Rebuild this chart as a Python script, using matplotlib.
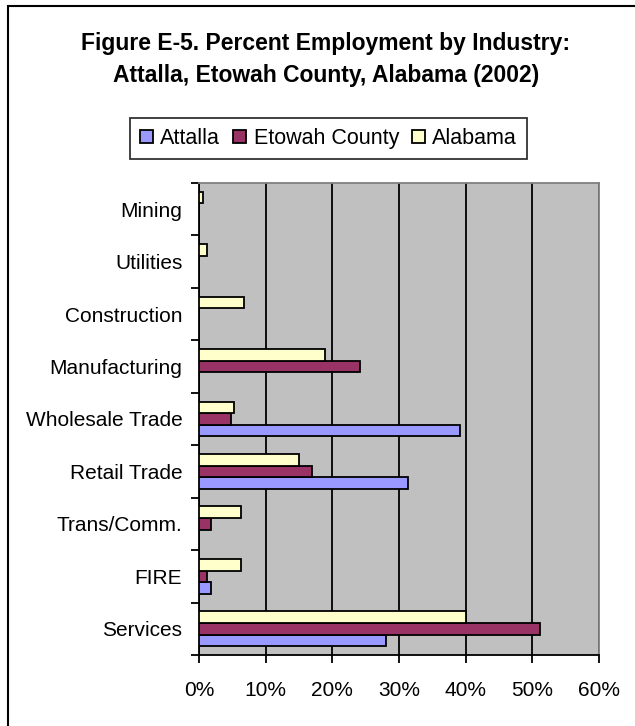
import numpy as np
import matplotlib
matplotlib.use("Agg")
import matplotlib.pyplot as plt
from matplotlib.patches import Rectangle
from matplotlib.ticker import FuncFormatter

plt.rcParams['font.family'] = ['Liberation Sans', 'DejaVu Sans']

# Industries listed top to bottom
industries = ["Mining", "Utilities", "Construction", "Manufacturing",
              "Wholesale Trade", "Retail Trade", "Trans/Comm.", "FIRE", "Services"]

# Percent employment (nan = no value reported)
attalla = [np.nan, np.nan, np.nan, np.nan, 39.1, 31.3, np.nan, 1.8, 28.0]
etowah = [np.nan, np.nan, np.nan, 24.1, 4.8, 16.9, 1.8, 1.2, 51.1]
alabama = [0.6, 1.2, 6.7, 18.9, 5.2, 15.0, 6.3, 6.3, 40.0]

series_names = ["Attalla", "Etowah County", "Alabama"]
series_colors = ["#9999FF", "#993366", "#FFFFCC"]
x_ticks = [0, 10, 20, 30, 40, 50, 60]

W, H = 635, 726
fig = plt.figure(figsize=(W / 100, H / 100), dpi=100)
fig.patch.set_facecolor("white")

ax = fig.add_axes([199 / W, 1 - 655 / H, 400 / W, 472 / H])
ax.set_facecolor("#C0C0C0")

y = np.arange(len(industries))
bh = 0.2222
offsets = [bh, 0.0, -bh]  # Attalla lowest, Alabama on top within each group
for vals, off, color, name in zip([attalla, etowah, alabama], offsets,
                                  series_colors, series_names):
    ax.barh(y + off, vals, height=bh, color=color, edgecolor="black",
            linewidth=1.3, label=name, zorder=3)

ax.set_xlim(0, 60)
ax.set_ylim(len(industries) - 0.5, -0.5)

ax.set_xticks(x_ticks)
ax.xaxis.set_major_formatter(FuncFormatter(lambda v, p: f"{v:.0f}%"))
ax.grid(axis="x", color="black", linewidth=1.3, zorder=1)
ax.set_axisbelow(True)

# category boundaries carry the tick marks, centres carry the labels
ax.set_yticks(np.arange(len(industries) + 1) - 0.5)
ax.set_yticklabels([])
ax.set_yticks(y, minor=True)
ax.set_yticklabels(industries, minor=True)
ax.tick_params(axis="y", which="major", length=6, width=1.3, direction="out")
ax.tick_params(axis="y", which="minor", length=0, pad=12, labelsize=15)
ax.tick_params(axis="x", length=6, width=1.3, direction="out", pad=13, labelsize=15)

for side in ["left", "bottom"]:
    ax.spines[side].set_color("black")
    ax.spines[side].set_linewidth(1.3)
for side in ["top", "right"]:
    ax.spines[side].set_color("#808080")
    ax.spines[side].set_linewidth(1.3)

fig.text(326 / W, 1 - 50 / H, "Figure E-5. Percent Employment by Industry:",
         ha="center", va="baseline", fontsize=16.5, fontweight="bold")
fig.text(326 / W, 1 - 82 / H, "Attalla, Etowah County, Alabama (2002)",
         ha="center", va="baseline", fontsize=16.5, fontweight="bold")

leg = fig.legend(loc="center", bbox_to_anchor=(328.5 / W, 1 - 138.5 / H),
                 ncol=3, frameon=True, fancybox=False, edgecolor="black",
                 fontsize=15.5, handlelength=0.6, handleheight=0.6,
                 handletextpad=0.35, columnspacing=0.6, borderpad=0.45,
                 borderaxespad=0)
leg.get_frame().set_linewidth(1.3)

# outer chart border
fig.patches.append(Rectangle((8 / W, -0.1), 2.0, 1.1 - 6 / H,
                             transform=fig.transFigure, fill=False,
                             edgecolor="black", linewidth=1.5))

fig.savefig("out.png", dpi=100)
